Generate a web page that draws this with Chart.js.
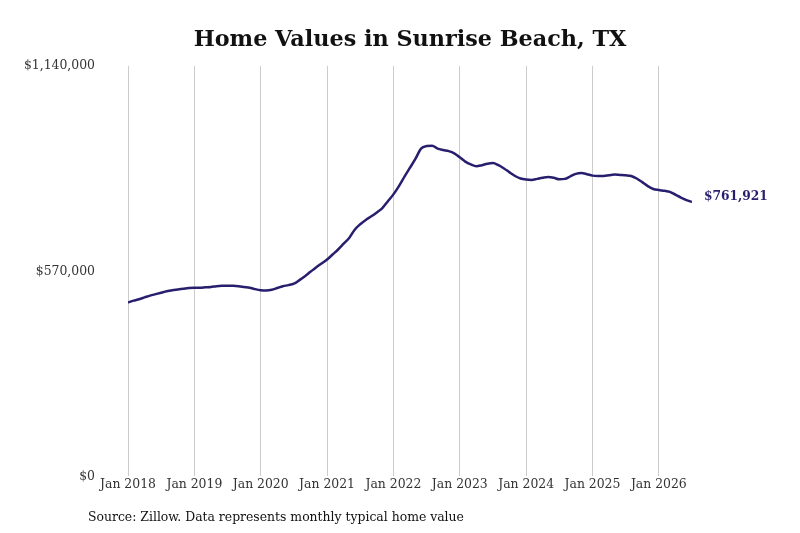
<!DOCTYPE html>
<html>
<head>
<meta charset="utf-8">
<script src="https://cdn.jsdelivr.net/npm/chart.js@4.4.1/dist/chart.umd.min.js"></script>
<style>
  html, body { margin: 0; padding: 0; background: #fff; }
  #wrap { position: relative; width: 800px; height: 533px; }
  #source {
    position: absolute; left: 88px; top: 508px; margin: 0;
    font-family: 'DejaVu Serif Condensed', 'DejaVu Serif', serif;
    font-size: 13.8px; color: #111;
  }
</style>
</head>
<body>
<div id="wrap">
  <canvas id="homeChart" width="800" height="533"></canvas>
  <p id="source">Source: Zillow. Data represents monthly typical home value</p>
</div>
<script>
// Valores mensuales (en miles de USD), ene 2018 - jul 2026
const startYear = 2018;
const homeValues = [
  483, 488, 492, 497, 502, 506, 510, 514, 517, 519, 521, 523,   // 2018
  524, 524, 525, 526, 528, 529, 529, 529, 528, 526, 524, 520,   // 2019
  517, 516, 518, 523, 528, 531, 535, 545, 556, 568, 580, 591,   // 2020
  602, 616, 630, 646, 662, 685, 700, 712, 722, 733, 745, 764,   // 2021
  783, 806, 832, 857, 882, 910, 917, 918, 910, 906, 903, 897,   // 2022
  886, 874, 866, 861, 864, 868, 870, 864, 855, 844, 834, 827,   // 2023
  824, 823, 826, 829, 831, 829, 825, 826, 833, 840, 842, 839,   // 2024
  835, 834, 834, 836, 838, 837, 836, 834, 827, 817, 806, 798,   // 2025
  795, 793, 790, 782, 774, 767, 761.921                         // 2026
];
const yTicks = [0, 570000, 1140000];
const xTicks = [0, 12, 24, 36, 48, 60, 72, 84, 96]; // meses desde ene 2018

const points = homeValues.map((v, i) => ({ x: i, y: v * 1000 }));
const lineColor = '#271e6e';
const serif = "'DejaVu Serif Condensed', 'DejaVu Serif', serif";

const fmt = v => '$' + Math.round(v).toLocaleString('en-US');

// Etiqueta con el último valor al final de la línea
const lastLabel = {
  id: 'lastLabel',
  afterDatasetsDraw(chart) {
    const meta = chart.getDatasetMeta(0);
    const pt = meta.data[meta.data.length - 1];
    const ctx = chart.ctx;
    ctx.save();
    ctx.font = "bold 13.6px 'DejaVu Serif Condensed', 'DejaVu Serif'";
    ctx.fillStyle = lineColor;
    ctx.textBaseline = 'middle';
    ctx.fillText(fmt(points[points.length - 1].y), pt.x + 12, pt.y - 5);
    ctx.restore();
  }
};

new Chart(document.getElementById('homeChart'), {
  type: 'line',
  data: {
    datasets: [{
      data: points,
      borderColor: lineColor,
      borderWidth: 2.5,
      pointRadius: 0,
      tension: 0.4,
      cubicInterpolationMode: 'monotone',
      fill: false
    }]
  },
  options: {
    responsive: false,
    animation: false,
    layout: { padding: { left: 25, right: 108, top: 0, bottom: 40 } },
    plugins: {
      legend: { display: false },
      tooltip: { enabled: false },
      title: {
        display: true,
        text: 'Home Values in Sunrise Beach, TX',
        fullSize: false,
        color: '#111',
        font: { family: 'DejaVu Serif', size: 22.3, weight: 'bold' },
        padding: { top: 27, bottom: 12 }
      }
    },
    scales: {
      x: {
        type: 'linear',
        min: 0,
        max: homeValues.length - 1,
        afterBuildTicks: s => { s.ticks = xTicks.map(v => ({ value: v })); },
        ticks: {
          callback: v => 'Jan ' + (startYear + v / 12),
          color: '#333',
          font: { family: serif, size: 13.8 },
          padding: 0,
          maxRotation: 0
        },
        grid: { color: '#cccccc', drawTicks: false },
        border: { display: false }
      },
      y: {
        min: 0,
        max: 1140000,
        afterBuildTicks: s => { s.ticks = yTicks.map(v => ({ value: v })); },
        afterFit: s => { s.width = 103; },
        ticks: {
          callback: fmt,
          color: '#333',
          font: { family: serif, size: 13.8 },
          padding: 33
        },
        grid: { display: false, drawTicks: false },
        border: { display: false }
      }
    }
  },
  plugins: [lastLabel]
});
</script>
</body>
</html>
